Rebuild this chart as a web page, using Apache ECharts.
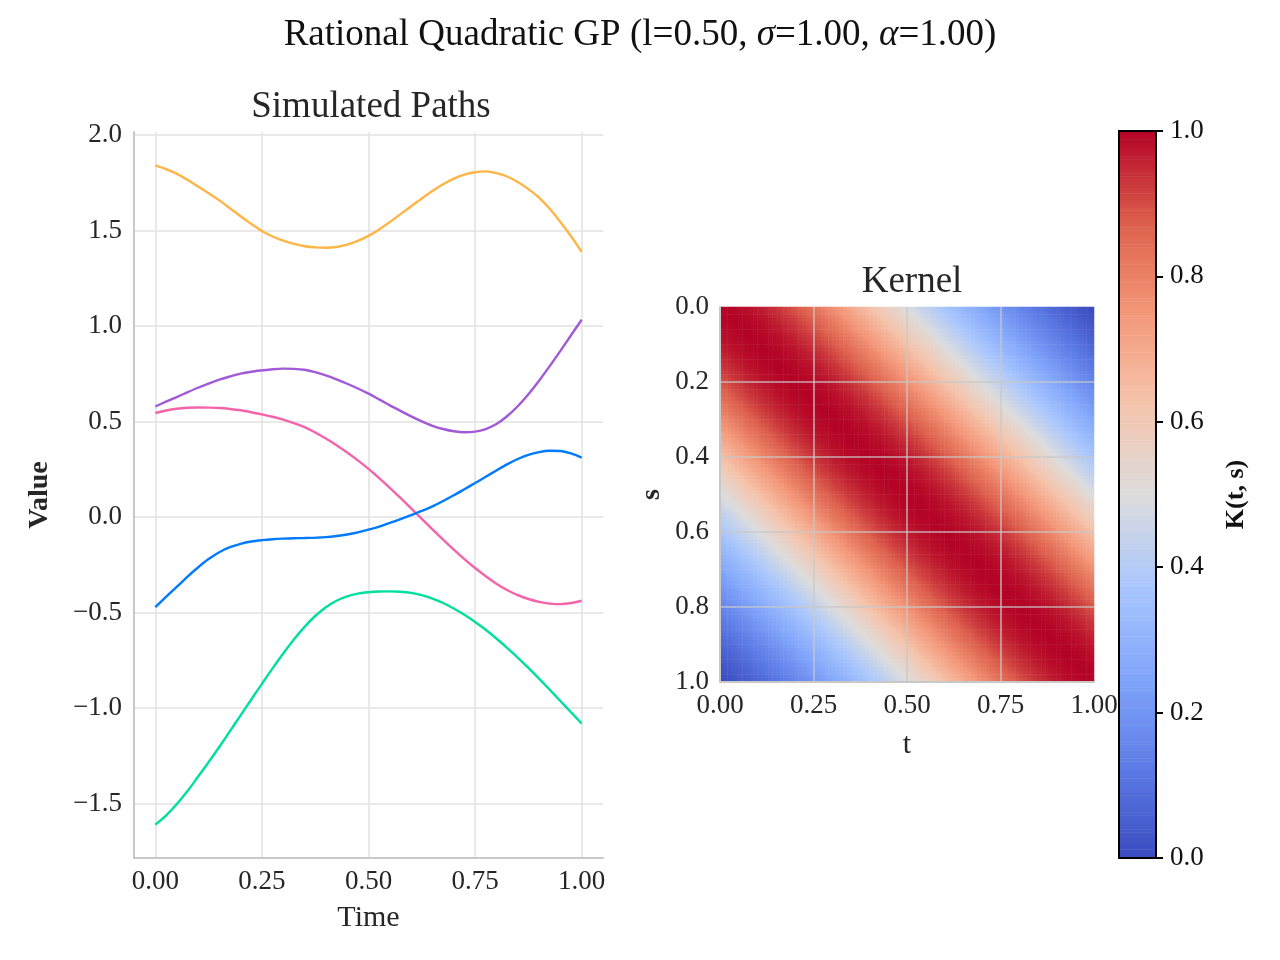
<!DOCTYPE html>
<html>
<head>
<meta charset="utf-8">
<script src="https://cdn.jsdelivr.net/npm/echarts@6/dist/echarts.min.js"></script>
<style>html,body{margin:0;padding:0;background:#fff;}#c{width:1280px;height:960px;}</style>
</head>
<body>
<div id="c"></div>
<script>
// ---- data ----
const times = [0,0.025,0.05,0.075,0.10,0.125,0.15,0.175,0.20,0.225,0.25,0.275,0.30,0.325,0.35,0.375,0.40,0.425,0.45,0.475,0.50,
  0.525,0.55,0.575,0.60,0.625,0.65,0.675,0.70,0.725,0.75,0.775,0.80,0.825,0.85,0.875,0.90,0.925,0.95,0.975,1.00];
const pathOrange = [1.841,1.822,1.798,1.766,1.731,1.695,1.658,1.617,1.575,1.535,1.498,1.469,1.447,1.430,1.418,1.412,1.410,1.414,1.426,1.446,1.472,
  1.506,1.545,1.586,1.627,1.668,1.707,1.742,1.772,1.793,1.805,1.810,1.801,1.783,1.754,1.717,1.672,1.614,1.545,1.470,1.388];
const pathPurple = [0.579,0.604,0.628,0.653,0.677,0.699,0.719,0.736,0.751,0.761,0.768,0.774,0.777,0.776,0.771,0.759,0.742,0.721,0.698,0.673,0.646,
  0.616,0.585,0.556,0.527,0.501,0.478,0.461,0.449,0.444,0.447,0.461,0.487,0.528,0.580,0.643,0.714,0.790,0.870,0.952,1.033];
const pathPink = [0.545,0.558,0.567,0.572,0.574,0.573,0.571,0.566,0.559,0.549,0.538,0.525,0.510,0.492,0.471,0.443,0.411,0.376,0.338,0.297,0.252,
  0.204,0.153,0.100,0.046,-0.009,-0.064,-0.118,-0.170,-0.220,-0.267,-0.310,-0.349,-0.382,-0.409,-0.429,-0.444,-0.453,-0.456,-0.450,-0.438];
const pathBlue = [-0.471,-0.418,-0.366,-0.313,-0.264,-0.220,-0.184,-0.158,-0.140,-0.128,-0.121,-0.116,-0.113,-0.111,-0.110,-0.108,-0.105,-0.099,-0.091,-0.080,-0.066,
  -0.050,-0.031,-0.011,0.010,0.032,0.056,0.084,0.114,0.146,0.178,0.211,0.244,0.276,0.304,0.326,0.340,0.347,0.346,0.333,0.311];
const pathGreen = [-1.610,-1.563,-1.504,-1.436,-1.360,-1.283,-1.204,-1.121,-1.038,-0.955,-0.873,-0.792,-0.714,-0.641,-0.575,-0.518,-0.472,-0.438,-0.415,-0.401,-0.394,
  -0.390,-0.389,-0.391,-0.397,-0.409,-0.427,-0.450,-0.479,-0.512,-0.549,-0.590,-0.636,-0.685,-0.736,-0.790,-0.846,-0.904,-0.963,-1.022,-1.081];
// kernel colour value by lag |i-j| on the 100x100 grid
const kernelByLag = [1.000,1.000,0.999,0.997,0.995,0.992,0.989,0.985,0.981,0.976,
0.970,0.964,0.957,0.950,0.942,0.934,0.926,0.916,0.907,0.897,
0.887,0.876,0.865,0.854,0.842,0.830,0.818,0.806,0.793,0.780,
0.767,0.754,0.741,0.727,0.714,0.700,0.686,0.672,0.659,0.645,
0.631,0.617,0.603,0.589,0.575,0.561,0.548,0.534,0.520,0.507,
0.493,0.480,0.467,0.453,0.440,0.427,0.415,0.402,0.389,0.377,
0.365,0.353,0.341,0.329,0.317,0.306,0.294,0.283,0.272,0.261,
0.250,0.239,0.229,0.219,0.208,0.198,0.188,0.179,0.169,0.160,
0.150,0.141,0.132,0.123,0.115,0.106,0.098,0.089,0.081,0.073,
0.065,0.058,0.050,0.043,0.035,0.028,0.021,0.014,0.007,0.000];
const pathTicksX = [0,0.25,0.5,0.75,1];
const pathTicksY = [-1.5,-1,-0.5,0,0.5,1,1.5,2];
const kernTicksX = [0,0.25,0.5,0.75,1];
const kernTicksY = [0,0.2,0.4,0.6,0.8,1];
const cbarTicks = [0,0.2,0.4,0.6,0.8,1];

const FONT = 'Liberation Serif';
const TXT = '#262626';
const N = kernelByLag.length;
const cells = [];
const cats = [];
for (let i = 0; i < N; i++) cats.push(String(i));
for (let i = 0; i < N; i++) for (let j = 0; j < N; j++) cells.push([i, j, kernelByLag[Math.abs(i - j)]]);
const cbLevels = [], cbData = [];
for (let k = 0; k < 256; k++) { cbLevels.push(String(k)); cbData.push([0, k, k / 255]); }

const minus = s => s.replace('-', '\u2212');
const pair = arr => times.map((t, i) => [t, arr[i]]);
const coolwarm = ['#3b4cc0','#5d7ce6','#82a6fb','#aac7fd','#dddcdc','#f5c4ac','#f4987a','#dd604d','#b40426'];

const lineSeries = [
  ['#FFB446', pathOrange], ['#A05AD7', pathPurple], ['#F564AA', pathPink],
  ['#007AFF', pathBlue], ['#00DEA0', pathGreen]
].map(([c, d]) => ({
  type: 'line', xAxisIndex: 0, yAxisIndex: 0, data: pair(d), smooth: 0.3,
  showSymbol: false, lineStyle: { color: c, width: 2.4 }, itemStyle: { color: c }, z: 3
}));

const chart = echarts.init(document.getElementById('c'), null, { renderer: 'canvas' });
chart.setOption({
  animation: false,
  backgroundColor: '#fff',
  title: [
    { text: 'Rational Quadratic GP (l=0.50, {i|σ}=1.00, {i|α}=1.00)', left: 'center', top: 12,
      textStyle: { fontFamily: FONT, fontSize: 37, fontWeight: 'normal', color: '#111',
        rich: { i: { fontFamily: FONT, fontSize: 37, fontStyle: 'italic', color: '#111' } } } },
    { text: 'Simulated Paths', left: 366, textAlign: 'center', top: 84,
      textStyle: { fontFamily: FONT, fontSize: 37, fontWeight: 'normal', color: TXT } },
    { text: 'Kernel', left: 907, textAlign: 'center', top: 259,
      textStyle: { fontFamily: FONT, fontSize: 37, fontWeight: 'normal', color: TXT } }
  ],
  grid: [
    { left: 134, top: 132, width: 469, height: 726 },
    { left: 720, top: 307, width: 374, height: 375 },
    { left: 1119, top: 131, width: 37, height: 727, show: true, borderColor: '#000', borderWidth: 2, backgroundColor: 'transparent', z: 10 }
  ],
  xAxis: [
    { type: 'value', gridIndex: 0, min: -0.05, max: 1.05, position: 'bottom',
      name: 'Time', nameLocation: 'middle', nameGap: 45,
      nameTextStyle: { fontFamily: FONT, fontSize: 30, color: TXT },
      axisLine: { show: true, onZero: false, lineStyle: { color: '#c8c8c8', width: 2 } },
      axisTick: { show: false, customValues: pathTicksX },
      axisLabel: { customValues: pathTicksX, formatter: v => v.toFixed(2), fontFamily: FONT, fontSize: 27, color: TXT, margin: 10 },
      splitLine: { show: true, lineStyle: { color: '#e2e2e2', width: 1.5 } } },
    { type: 'category', gridIndex: 1, data: cats, show: false, position: 'top' },
    { type: 'value', gridIndex: 1, min: 0, max: 1, z: 10, position: 'bottom',
      name: 't', nameLocation: 'middle', nameGap: 48,
      nameTextStyle: { fontFamily: FONT, fontSize: 30, color: TXT },
      axisLine: { show: true, onZero: false, lineStyle: { color: '#c8c8c8', width: 2 } },
      axisTick: { show: false, customValues: [0.25, 0.5, 0.75] },
      axisLabel: { customValues: kernTicksX, formatter: v => v.toFixed(2), fontFamily: FONT, fontSize: 27, color: TXT, margin: 10 },
      splitLine: { show: true, lineStyle: { color: 'rgba(200,200,200,0.85)', width: 1.5 } } },
    { type: 'category', gridIndex: 2, data: ['c'], show: false }
  ],
  yAxis: [
    { type: 'value', gridIndex: 0, min: -1.785, max: 2.016, position: 'left',
      name: 'Value', nameLocation: 'middle', nameGap: 80,
      nameTextStyle: { fontFamily: FONT, fontSize: 28, color: TXT, fontWeight: 'bold' },
      axisLine: { show: true, onZero: false, lineStyle: { color: '#c8c8c8', width: 2 } },
      axisTick: { show: false, customValues: pathTicksY },
      axisLabel: { customValues: pathTicksY, formatter: v => minus(v.toFixed(1)), fontFamily: FONT, fontSize: 27, color: TXT, margin: 12 },
      splitLine: { show: true, lineStyle: { color: '#e2e2e2', width: 1.5 } } },
    { type: 'category', gridIndex: 1, data: cats, inverse: true, show: false, position: 'right' },
    { type: 'value', gridIndex: 1, min: 0, max: 1, inverse: true, z: 10, position: 'left',
      name: 's', nameLocation: 'middle', nameGap: 54,
      nameTextStyle: { fontFamily: FONT, fontSize: 28, color: TXT, fontWeight: 'bold' },
      axisLine: { show: true, onZero: false, lineStyle: { color: '#c8c8c8', width: 2 } },
      axisTick: { show: false, customValues: [0.2, 0.4, 0.6, 0.8] },
      axisLabel: { customValues: kernTicksY, formatter: v => v.toFixed(1), fontFamily: FONT, fontSize: 27, color: TXT, margin: 11 },
      splitLine: { show: true, lineStyle: { color: 'rgba(200,200,200,0.85)', width: 1.5 } } },
    { type: 'category', gridIndex: 2, data: cbLevels, show: false, position: 'left' },
    { type: 'value', gridIndex: 2, min: 0, max: 1, position: 'right', z: 11,
      name: 'K(t, s)', nameLocation: 'middle', nameGap: 67, nameRotate: 90,
      nameTextStyle: { fontFamily: FONT, fontSize: 26, color: '#111', fontWeight: 'bold' },
      axisLine: { show: false },
      axisTick: { show: true, inside: false, length: 7, customValues: cbarTicks, lineStyle: { color: '#000', width: 2 } },
      axisLabel: { customValues: cbarTicks, formatter: v => v.toFixed(1), fontFamily: FONT, fontSize: 27, color: '#111', margin: 14 },
      splitLine: { show: false } }
  ],
  visualMap: {
    type: 'continuous', min: 0, max: 1, show: false, seriesIndex: [5, 6],
    inRange: { color: coolwarm }
  },
  series: lineSeries.concat([
    { type: 'heatmap', xAxisIndex: 1, yAxisIndex: 1, data: cells, z: 2, progressive: 0 },
    { type: 'heatmap', xAxisIndex: 3, yAxisIndex: 3, data: cbData, z: 2, progressive: 0 }
  ])
});
</script>
</body>
</html>
